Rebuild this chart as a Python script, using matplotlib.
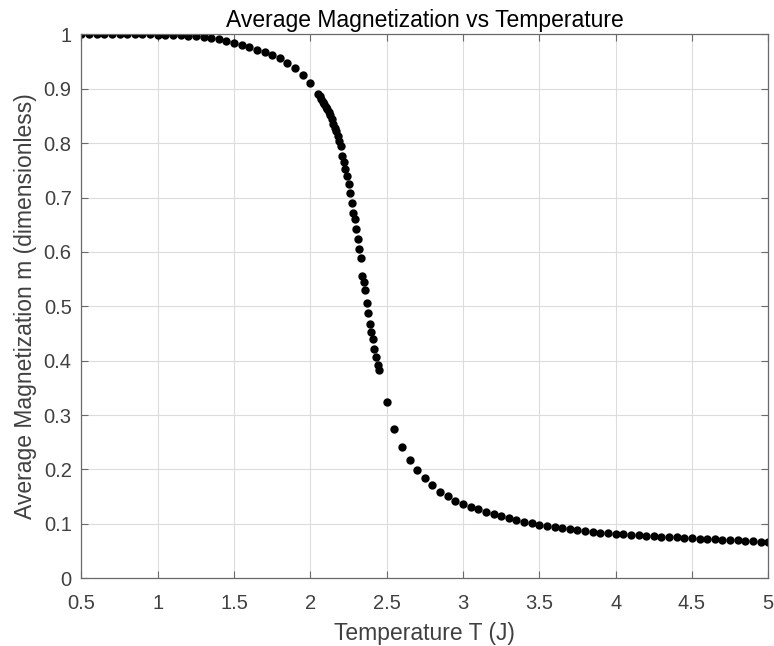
import numpy as np
from matplotlib import pyplot as plt
from matplotlib.ticker import FuncFormatter

# low temperature part, step 0.05
T_low = [0.5, 0.55, 0.6, 0.65, 0.7, 0.75, 0.8, 0.85, 0.9, 0.95,
         1.0, 1.05, 1.1, 1.15, 1.2, 1.25, 1.3, 1.35, 1.4, 1.45,
         1.5, 1.55, 1.6, 1.65, 1.7, 1.75, 1.8, 1.85, 1.9, 1.95, 2.0]
m_low = [1.0, 1.0, 1.0, 1.0, 1.0, 1.0, 1.0, 1.0, 1.0, 0.9997,
         0.9993, 0.999, 0.9985, 0.998, 0.997, 0.996, 0.9948, 0.993, 0.991, 0.988,
         0.9846, 0.981, 0.977, 0.972, 0.968, 0.962, 0.956, 0.947, 0.9375, 0.926, 0.910]

# critical region, step 0.01
T_crit = [2.05, 2.06, 2.07, 2.08, 2.09, 2.10, 2.11, 2.12, 2.13, 2.14,
          2.15, 2.16, 2.17, 2.18, 2.19, 2.20, 2.21, 2.22, 2.23, 2.24,
          2.25, 2.26, 2.27, 2.28, 2.29, 2.30, 2.31, 2.32, 2.33, 2.34,
          2.35, 2.36, 2.37, 2.38, 2.39, 2.40, 2.41, 2.42, 2.43, 2.44, 2.45]
m_crit = [0.891, 0.886, 0.881, 0.876, 0.872, 0.867, 0.862, 0.857, 0.851, 0.844,
          0.836, 0.828, 0.822, 0.813, 0.804, 0.795, 0.776, 0.765, 0.752, 0.740,
          0.724, 0.708, 0.690, 0.671, 0.660, 0.643, 0.624, 0.606, 0.589, 0.556,
          0.545, 0.530, 0.506, 0.488, 0.467, 0.452, 0.440, 0.421, 0.406, 0.393, 0.382]

# high temperature part, step 0.05
T_high = [2.5, 2.55, 2.6, 2.65, 2.7, 2.75, 2.8, 2.85, 2.9, 2.95,
          3.0, 3.05, 3.1, 3.15, 3.2, 3.25, 3.3, 3.35, 3.4, 3.45,
          3.5, 3.55, 3.6, 3.65, 3.7, 3.75, 3.8, 3.85, 3.9, 3.95,
          4.0, 4.05, 4.1, 4.15, 4.2, 4.25, 4.3, 4.35, 4.4, 4.45,
          4.5, 4.55, 4.6, 4.65, 4.7, 4.75, 4.8, 4.85, 4.9, 4.95, 5.0]
m_high = [0.3235, 0.274, 0.241, 0.218, 0.199, 0.185, 0.171, 0.158, 0.152, 0.143,
          0.136, 0.131, 0.127, 0.122, 0.118, 0.114, 0.110, 0.107, 0.104, 0.101,
          0.0985, 0.096, 0.094, 0.092, 0.090, 0.088, 0.0865, 0.085, 0.0838, 0.0827,
          0.082, 0.081, 0.080, 0.079, 0.078, 0.077, 0.0765, 0.0758, 0.075, 0.0744,
          0.0737, 0.073, 0.0723, 0.0716, 0.071, 0.0703, 0.0697, 0.069, 0.0683, 0.0676, 0.0667]

T = T_low + T_crit + T_high
m = m_low + m_crit + m_high

xticks = [0.5, 1, 1.5, 2, 2.5, 3, 3.5, 4, 4.5, 5]
yticks = [0, 0.1, 0.2, 0.3, 0.4, 0.5, 0.6, 0.7, 0.8, 0.9, 1]

plt.rcParams['font.family'] = ['Liberation Sans', 'DejaVu Sans']

fig = plt.figure(figsize=(7.74, 6.46), dpi=100)
ax = fig.add_axes([0.1052, 0.1048, 0.8874, 0.8421])

ax.plot(T, m, linestyle='none', marker='o', markersize=5, color='black')

ax.set_xlim(0.5, 5)
ax.set_ylim(0, 1)
ax.set_xticks(xticks)
ax.set_yticks(yticks)
fmt = FuncFormatter(lambda v, p: ('%g' % v))
ax.xaxis.set_major_formatter(fmt)
ax.yaxis.set_major_formatter(fmt)

ax.grid(True, color='#dcdcdc', linewidth=0.8)
ax.set_axisbelow(True)
for s in ax.spines.values():
    s.set_color('#6a6a6a')
    s.set_linewidth(0.9)
ax.tick_params(direction='in', top=True, right=True, length=5, width=0.8,
               color='#6a6a6a', labelsize=14.5, labelcolor='#404040')
ax.tick_params(axis='x', pad=11)
ax.tick_params(axis='y', pad=7)

ax.set_title("Average Magnetization vs Temperature", fontsize=16.5, color='black', pad=5)
ax.set_xlabel("Temperature T (J)", fontsize=16.5, color='#404040', labelpad=7)
ax.set_ylabel("Average Magnetization m (dimensionless)", fontsize=16.5, color='#404040', labelpad=5)

fig.savefig("out.png", dpi=100)
